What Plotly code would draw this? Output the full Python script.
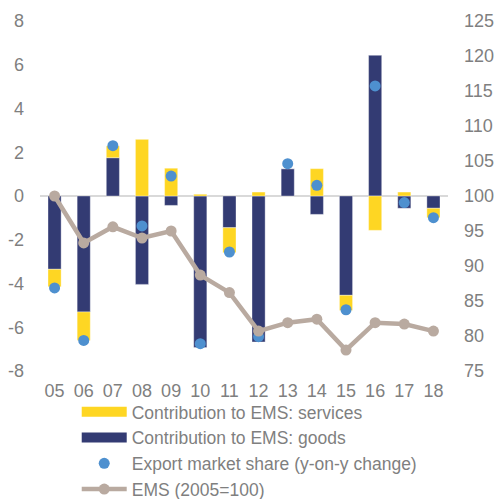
import plotly.graph_objects as go

years = ["05", "06", "07", "08", "09", "10", "11", "12", "13", "14", "15", "16", "17", "18"]
goods = [-3.35, -5.3, 1.75, -4.04, -0.43, -6.93, -1.45, -6.67, 1.25, -0.84, -4.54, 6.43, -0.56, -0.56]
services = [-0.8, -1.3, 0.54, 2.59, 1.27, 0.08, -1.14, 0.18, 0.0, 1.25, -0.69, -1.57, 0.18, -0.43]
ems_change = [-4.2, -6.6, 2.3, -1.37, 0.91, -6.75, -2.56, -6.43, 1.48, 0.49, -5.2, 5.03, -0.3, -0.99]
ems_index = [100.0, 93.3, 95.6, 94.0, 95.0, 88.7, 86.2, 80.7, 81.9, 82.4, 78.0, 81.9, 81.7, 80.7]
left_ticks = [-8, -6, -4, -2, 0, 2, 4, 6, 8]
left_labels = ["-8", "-6", "-4", "-2", "0", "2", "4", "6", "8"]
right_ticks = [75, 80, 85, 90, 95, 100, 105, 110, 115, 120, 125]

C_SERV = "#fed623"
C_GOODS = "#333b73"
C_DOT = "#4e90cf"
C_EMS = "#b9aaa0"
TXT = "#7f7f7f"
FONT = "Liberation Sans, Arial, sans-serif"

fig = go.Figure()
fig.add_trace(go.Bar(x=years, y=goods, name="Contribution to EMS: goods",
                     marker=dict(color=C_GOODS, line=dict(color="rgba(255,255,255,0.35)", width=1)),
                     width=0.45, showlegend=False))
fig.add_trace(go.Bar(x=years, y=services, name="Contribution to EMS: services",
                     marker=dict(color=C_SERV, line=dict(color="rgba(255,255,255,0.35)", width=1)),
                     width=0.45, showlegend=False))
# legend-only entries with wide rectangular keys
fig.add_trace(go.Scatter(x=[None], y=[None], mode="lines", name="Contribution to EMS: services",
                         line=dict(color=C_SERV, width=10), legendrank=1))
fig.add_trace(go.Scatter(x=[None], y=[None], mode="lines", name="Contribution to EMS: goods",
                         line=dict(color=C_GOODS, width=10), legendrank=2))
fig.add_trace(go.Scatter(x=years, y=ems_change, mode="markers", name="Export market share (y-on-y change)",
                         marker=dict(color=C_DOT, size=11), legendrank=3))
fig.add_trace(go.Scatter(x=years, y=ems_index, mode="lines+markers", name="EMS (2005=100)",
                         line=dict(color=C_EMS, width=4.5), marker=dict(color=C_EMS, size=11),
                         yaxis="y2", legendrank=4))

fig.update_layout(
    width=497, height=499,
    margin=dict(l=40, r=49, t=21, b=128, autoexpand=False),
    paper_bgcolor="white", plot_bgcolor="white",
    barmode="relative", bargap=0.55,
    font=dict(family=FONT, size=18, color=TXT),
    xaxis=dict(range=[-0.5, 13.5], showgrid=False, showline=False, ticks="", automargin=False,
               ticklabelstandoff=7, tickfont=dict(size=18, color=TXT)),
    yaxis=dict(range=[-8, 8], tickvals=left_ticks, ticktext=left_labels, showgrid=False,
               zeroline=True, zerolinecolor="#d9d9d9", automargin=False, ticklabelstandoff=15,
               zerolinewidth=2, showline=False, ticks="", tickfont=dict(size=18, color=TXT)),
    yaxis2=dict(range=[75, 125], tickvals=right_ticks, overlaying="y", side="right", showgrid=False,
                zeroline=False, showline=False, ticks="", automargin=False, ticklabelstandoff=15,
                tickfont=dict(size=18, color=TXT)),
    legend=dict(x=0.09, y=-0.0657, xanchor="left", yanchor="top", orientation="v",
                font=dict(size=17.5, color=TXT), bgcolor="rgba(0,0,0,0)", itemwidth=45,
                tracegroupgap=0),
)

fig.write_html("out.html", config={"displayModeBar": False},
               post_script="document.body.style.margin='0';")
